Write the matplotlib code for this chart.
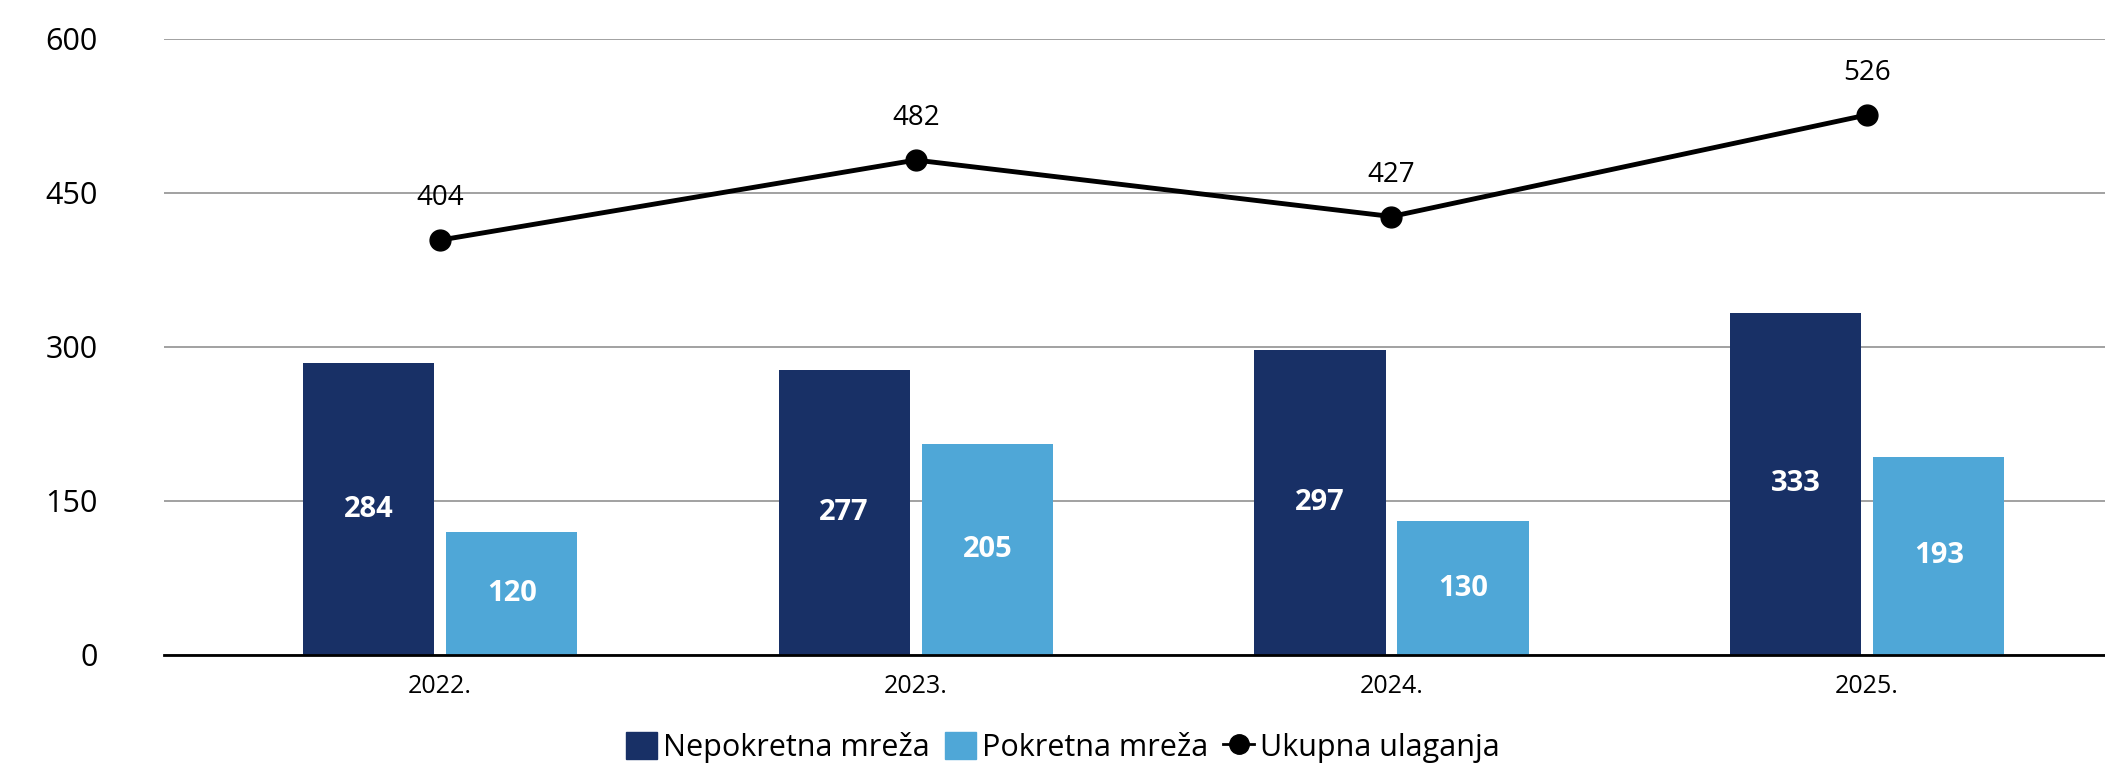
import numpy as np
import matplotlib
matplotlib.use("Agg")
import matplotlib.pyplot as plt
from matplotlib.patches import Patch
from matplotlib.lines import Line2D

plt.rcParams['font.family'] = ['Open Sans', 'DejaVu Sans']

years = ['2022.', '2023.', '2024.', '2025.']
nepokretna = [284, 277, 297, 333]
pokretna = [120, 205, 130, 193]
ukupno = [404, 482, 427, 526]
yticks = [0, 150, 300, 450, 600]

dark = '#183066'
light = '#4fa7d7'

fig = plt.figure(figsize=(21.05, 7.64), dpi=100)
ax = fig.add_axes([0.078, 0.143, 0.922, 0.806])

x = np.arange(len(years))
w = 0.276
gap = 0.025
b1 = ax.bar(x - (w + gap) / 2, nepokretna, w, color=dark, zorder=3)
b2 = ax.bar(x + (w + gap) / 2, pokretna, w, color=light, zorder=3)
ax.bar_label(b1, label_type='center', color='white', fontsize=21, fontweight='bold')
ax.bar_label(b2, label_type='center', color='white', fontsize=21, fontweight='bold')

ax.plot(x, ukupno, color='black', lw=3.5, marker='o', markersize=15, zorder=4)
for xi, v in zip(x, ukupno):
    ax.annotate(str(v), (xi, v), xytext=(0, 30), textcoords='offset points',
                ha='center', va='center', fontsize=20)

ax.set_xlim(-0.58, 3.5)
ax.set_ylim(0, 600)
ax.set_yticks(yticks)
ax.set_xticks(x)
ax.set_xticklabels(years, fontsize=18)
ax.tick_params(axis='y', length=0, labelsize=22, pad=48)
ax.tick_params(axis='x', length=0, pad=14)
ax.grid(axis='y', color='#9a9a9a', lw=1.3, zorder=0)
for s in ['top', 'right', 'left']:
    ax.spines[s].set_visible(False)
ax.spines['bottom'].set_color('black')
ax.spines['bottom'].set_linewidth(2)
ax.spines['bottom'].set_zorder(5)

handles = [Patch(color=dark), Patch(color=light),
           Line2D([], [], color='black', lw=2, marker='o', markersize=14)]
fig.legend(handles, ['Nepokretna mreža', 'Pokretna mreža', 'Ukupna ulaganja'],
           loc='center', bbox_to_anchor=(0.505, 0.022), ncol=3, frameon=False,
           fontsize=22, handlelength=1.0, handleheight=1.0, handletextpad=0.2,
           columnspacing=0.5)

fig.savefig('out.png', dpi=100)
